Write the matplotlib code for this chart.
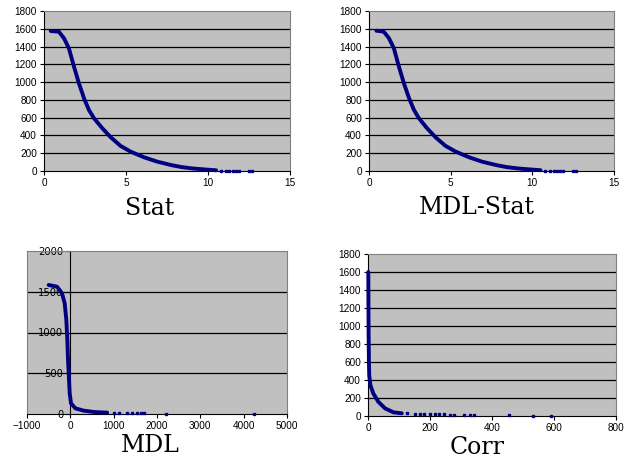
import matplotlib
matplotlib.use("Agg")
import matplotlib.pyplot as plt

# ---- data (score vs. rank) ----
stat_x = [0.41, 0.91, 1.22, 1.52, 1.83, 2.13, 2.44, 2.74, 3.05, 3.56, 4.07, 4.68, 5.29, 6.1, 6.91, 7.82, 8.4, 9.1, 9.9, 10.5]
stat_y = [1575, 1567, 1493, 1380, 1173, 986, 818, 686, 593, 480, 379, 281, 217, 154, 105, 64, 44, 28, 16, 8]
stat_tail_x = [10.8, 11.1, 11.3, 11.5, 11.7, 11.9, 12.5, 12.7]
stat_tail_y = [5, 4, 4, 3, 3, 3, 2, 2]

mdlstat_x = [0.45, 0.9, 1.22, 1.52, 1.83, 2.14, 2.45, 2.75, 3.05, 3.55, 4.07, 4.68, 5.3, 6.1, 6.9, 7.8, 8.4, 9.1, 9.9, 10.5]
mdlstat_y = [1578, 1568, 1495, 1382, 1175, 985, 820, 688, 595, 482, 380, 283, 219, 156, 106, 66, 45, 29, 17, 9]
mdlstat_tail_x = [10.8, 11.1, 11.3, 11.5, 11.7, 11.9, 12.5, 12.7]
mdlstat_tail_y = [5, 4, 4, 3, 3, 3, 2, 2]

mdl_x = [-500, -307, -192, -130, -92, -69, -53, -30, -15, 16, 115, 309, 540, 700, 850]
mdl_y = [1583, 1562, 1481, 1358, 1153, 908, 663, 417, 254, 131, 70, 41, 25, 20, 17]
mdl_tail_x = [1008, 1115, 1315, 1430, 1546, 1623, 1700, 2200, 4238]
mdl_tail_y = [12, 12, 10, 10, 10, 8, 8, 6, 4]

corr_x = [1, 1.5, 2, 3, 4, 7.5, 17, 33, 55, 82, 109]
corr_y = [1600, 1200, 900, 600, 450, 344, 252, 159, 85, 41, 30]
corr_tail_x = [126, 153, 169, 180, 201, 217, 228, 244, 266, 277, 309, 330, 341, 456, 533, 589]
corr_tail_y = [28, 26, 25, 24, 22, 20, 19, 17, 15, 14, 12, 10, 9, 6, 4, 2]

titles = ["Stat", "MDL-Stat", "MDL", "Corr"]

NAVY = "#000080"
BG = "#C0C0C0"

fig = plt.figure(figsize=(6.31, 4.62), dpi=100)
W, H = 631, 462

def ax_px(l, t, r, b):
    return fig.add_axes([l / W, 1 - b / H, (r - l) / W, (b - t) / H])

def style(ax, xlim, ylim, xticks, yticks):
    ax.set_facecolor(BG)
    ax.set_xlim(*xlim)
    ax.set_ylim(*ylim)
    ax.set_xticks(xticks)
    ax.set_yticks(yticks)
    for yv in yticks[1:-1]:
        ax.axhline(yv, color="black", lw=0.9, zorder=1)
    for s in ["top", "right"]:
        ax.spines[s].set_color("#808080")
        ax.spines[s].set_linewidth(0.8)
    for s in ["left", "bottom"]:
        ax.spines[s].set_color("black")
        ax.spines[s].set_linewidth(0.8)
    ax.tick_params(direction="out", length=3, width=0.8, labelsize=7.2, pad=2)
    for lab in ax.get_xticklabels() + ax.get_yticklabels():
        lab.set_fontfamily("Liberation Sans")

def draw(ax, x, y, tx, ty):
    ax.plot(x, y, color=NAVY, lw=2.8, solid_capstyle="round",
            solid_joinstyle="round", zorder=3, clip_on=False)
    ax.plot(tx, ty, "s", color=NAVY, ms=1.5, zorder=3, clip_on=False)

# Stat
a1 = ax_px(44, 11, 290, 171)
style(a1, (0, 15), (0, 1800), [0, 5, 10, 15], list(range(0, 2000, 200)))
draw(a1, stat_x, stat_y, stat_tail_x, stat_tail_y)

# MDL-Stat
a2 = ax_px(369, 11, 614, 171)
style(a2, (0, 15), (0, 1800), [0, 5, 10, 15], list(range(0, 2000, 200)))
draw(a2, mdlstat_x, mdlstat_y, mdlstat_tail_x, mdlstat_tail_y)

# MDL
a3 = ax_px(27, 251, 287, 414)
style(a3, (-1000, 5000), (0, 2000), list(range(-1000, 6000, 1000)), [0, 500, 1000, 1500, 2000])
a3.spines["left"].set_position(("data", 0))
a3.spines["left"].set_zorder(2)
a3.axhline(2000, color="#808080", lw=0.8)
a3.plot([-1000, -1000], [0, 2000], color="#808080", lw=0.8, clip_on=False)
draw(a3, mdl_x, mdl_y, mdl_tail_x, mdl_tail_y)

# Corr
a4 = ax_px(368, 254, 616, 416)
style(a4, (0, 800), (0, 1800), [0, 200, 400, 600, 800], list(range(0, 2000, 200)))
draw(a4, corr_x, corr_y, corr_tail_x, corr_tail_y)

# titles below each chart
for (cx, cy), t in zip([(150, 208), (477, 207), (150, 445), (477, 447)], titles):
    fig.text(cx / W, 1 - cy / H, t, ha="center", va="center",
             fontsize=17, family="DejaVu Serif")

fig.savefig("out.png", dpi=100)
